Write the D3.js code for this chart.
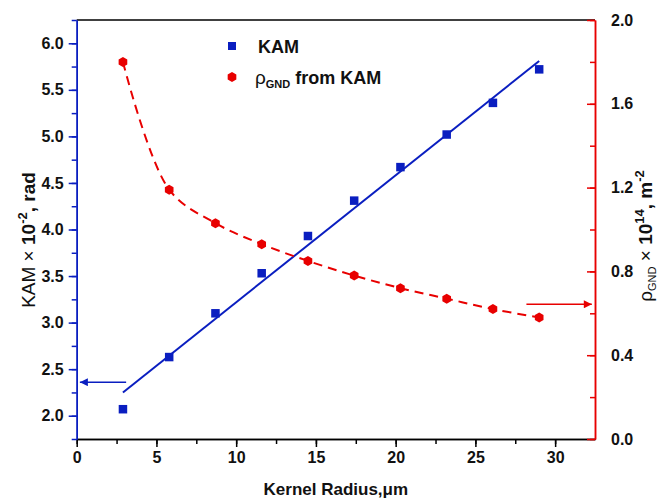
<!DOCTYPE html>
<html>
<head>
<meta charset="utf-8">
<script src="https://cdn.jsdelivr.net/npm/d3@7"></script>
<style>
  body { margin: 0; background: #fff; }
  svg { display: block; font-family: "Liberation Sans", Arial, sans-serif; }
</style>
</head>
<body>
<div id="chart"></div>
<script>
var width = 658,
  height = 498;

// DATA
const radius = [2.9, 5.8, 8.7, 11.6, 14.5, 17.4, 20.3, 23.2, 26.1, 29.0]; // kernel radius, um
const kam = [2.07, 2.63, 3.10, 3.53, 3.93, 4.31, 4.67, 5.02, 5.36, 5.72];  // KAM x 10^-2 rad
const rhoGND = [1.80, 1.19, 1.03, 0.93, 0.85, 0.78, 0.72, 0.67, 0.62, 0.58]; // x 10^14 m^-2
const kamFitX = [2.9, 29.0];   // linear fit ends
const kamFitY = [2.25, 5.81];
const kamArrowX = [3.1, 0.2];  // blue arrow pointing to left axis
const kamArrowY = 2.36;
const rhoArrowX = [28.2, 32.3]; // red arrow pointing to right axis
const rhoArrowY = 0.643;

const xTicks = [0, 5, 10, 15, 20, 25, 30];
const yLeftTicks = [2.0, 2.5, 3.0, 3.5, 4.0, 4.5, 5.0, 5.5, 6.0];
const yRightTicks = [0.0, 0.4, 0.8, 1.2, 1.6, 2.0];

const blue = '#0a1ec0';
const red = '#e80000';

var margin = { top: 20, right: 63, bottom: 59, left: 76.7 };

var svg = d3.select('#chart')
  .append('svg')
  .attr('width', width)
  .attr('height', height);

var x = d3.scaleLinear().domain([0, 32.5]).range([margin.left, width - margin.right]);
var yL = d3.scaleLinear().domain([1.75, 6.25]).range([height - margin.bottom, margin.top]);
var yR = d3.scaleLinear().domain([0, 2]).range([height - margin.bottom, margin.top]);

// top frame line
svg.append('line')
  .attr('x1', x(0)).attr('x2', x(32.5))
  .attr('y1', yL(6.25)).attr('y2', yL(6.25))
  .attr('stroke', '#000').attr('stroke-width', 1.5);

// axes
function styleAxis(g, color) {
  g.selectAll('path').attr('stroke', color).attr('stroke-width', 1.5);
  g.selectAll('line').attr('stroke', color).attr('stroke-width', 1.5);
  g.selectAll('text')
    .attr('fill', '#111')
    .style('font-size', '16px')
    .style('font-weight', 'bold');
}

// x axis: minor ticks then major
svg.append('g')
  .attr('transform', 'translate(0,' + yL(1.75) + ')')
  .call(d3.axisBottom(x).tickValues(d3.range(0, 32.5, 2.5)).tickSize(5).tickFormat('').tickSizeOuter(0))
  .call(g => styleAxis(g, '#000'));
svg.append('g')
  .attr('transform', 'translate(0,' + yL(1.75) + ')')
  .call(d3.axisBottom(x).tickValues(xTicks).tickSize(8).tickPadding(5).tickFormat(d3.format('d')).tickSizeOuter(0))
  .call(g => styleAxis(g, '#000'));

// left axis
svg.append('g')
  .attr('transform', 'translate(' + x(0) + ',0)')
  .call(d3.axisLeft(yL).tickValues(d3.range(1.75, 6.3, 0.25)).tickSize(5).tickFormat('').tickSizeOuter(0))
  .call(g => styleAxis(g, blue));
svg.append('g')
  .attr('transform', 'translate(' + x(0) + ',0)')
  .call(d3.axisLeft(yL).tickValues(yLeftTicks).tickSize(8).tickPadding(5).tickFormat(d3.format('.1f')).tickSizeOuter(0))
  .call(g => styleAxis(g, blue));

// right axis (ticks pointing inward)
svg.append('g')
  .attr('transform', 'translate(' + x(32.5) + ',0)')
  .call(d3.axisRight(yR).tickValues(d3.range(0, 2.01, 0.2)).tickSize(-5).tickFormat('').tickSizeOuter(0))
  .call(g => styleAxis(g, red));
svg.append('g')
  .attr('transform', 'translate(' + x(32.5) + ',0)')
  .call(d3.axisRight(yR).tickValues(yRightTicks).tickSize(-8).tickPadding(16).tickFormat(d3.format('.1f')).tickSizeOuter(0))
  .call(g => styleAxis(g, red));

// KAM linear fit
svg.append('line')
  .attr('x1', x(kamFitX[0])).attr('y1', yL(kamFitY[0]))
  .attr('x2', x(kamFitX[1])).attr('y2', yL(kamFitY[1]))
  .attr('stroke', blue).attr('stroke-width', 2);

// rho dashed fit curve
var rhoLine = d3.line()
  .x(d => x(d[0]))
  .y(d => yR(d[1]))
  .curve(d3.curveCatmullRom.alpha(0.5));
svg.append('path')
  .datum(d3.zip(radius, rhoGND))
  .attr('d', rhoLine)
  .attr('fill', 'none')
  .attr('stroke', red)
  .attr('stroke-width', 2)
  .attr('stroke-dasharray', '9,6');

// markers
var sq = 8.5;
svg.append('g')
  .selectAll('rect')
  .data(d3.zip(radius, kam))
  .join('rect')
  .attr('x', d => x(d[0]) - sq / 2)
  .attr('y', d => yL(d[1]) - sq / 2)
  .attr('width', sq)
  .attr('height', sq)
  .attr('fill', blue);

function hexPath(r) {
  let pts = d3.range(6).map(i => {
    let a = Math.PI / 6 + i * Math.PI / 3;
    return [r * Math.cos(a), r * Math.sin(a)];
  });
  return 'M' + pts.join('L') + 'Z';
}
svg.append('g')
  .selectAll('path')
  .data(d3.zip(radius, rhoGND))
  .join('path')
  .attr('d', hexPath(5))
  .attr('transform', d => 'translate(' + x(d[0]) + ',' + yR(d[1]) + ')')
  .attr('fill', red);

// arrows
var defs = svg.append('defs');
[['arrowBlue', blue], ['arrowRed', red]].forEach(function(a) {
  defs.append('marker')
    .attr('id', a[0])
    .attr('viewBox', '0 0 10 10')
    .attr('refX', 10).attr('refY', 5)
    .attr('markerWidth', 7).attr('markerHeight', 5)
    .attr('markerUnits', 'strokeWidth')
    .attr('orient', 'auto')
    .append('path')
    .attr('d', 'M0,0L10,5L0,10Z')
    .attr('fill', a[1]);
});
svg.append('line')
  .attr('x1', x(kamArrowX[0])).attr('x2', x(kamArrowX[1]))
  .attr('y1', yL(kamArrowY)).attr('y2', yL(kamArrowY))
  .attr('stroke', blue).attr('stroke-width', 1.6)
  .attr('marker-end', 'url(#arrowBlue)');
svg.append('line')
  .attr('x1', x(rhoArrowX[0])).attr('x2', x(rhoArrowX[1]))
  .attr('y1', yR(rhoArrowY)).attr('y2', yR(rhoArrowY))
  .attr('stroke', red).attr('stroke-width', 1.6)
  .attr('marker-end', 'url(#arrowRed)');

// legend
var leg = svg.append('g').attr('transform', 'translate(232,0)');
leg.append('rect')
  .attr('x', -4).attr('y', 42).attr('width', 8).attr('height', 8)
  .attr('fill', blue);
leg.append('path')
  .attr('d', hexPath(5))
  .attr('transform', 'translate(0,77)')
  .attr('fill', red);
leg.append('text')
  .attr('x', 26).attr('y', 53)
  .style('font-size', '18px').style('font-weight', 'bold')
  .attr('fill', '#111')
  .text('KAM');
var t2 = leg.append('text')
  .attr('x', 23).attr('y', 84)
  .style('font-size', '19px')
  .attr('fill', '#111');
t2.append('tspan').text('ρ');
t2.append('tspan').attr('dy', 4).style('font-size', '11px').style('font-weight', 'bold').text('GND');
t2.append('tspan').attr('dy', -4).style('font-size', '18px').style('font-weight', 'bold').text(' from KAM');

// axis titles
svg.append('text')
  .attr('x', x(16.25) + 0).attr('y', 495)
  .attr('text-anchor', 'middle')
  .style('font-size', '17px').style('font-weight', 'bold')
  .attr('fill', '#111')
  .text('Kernel Radius,μm');

var lt = svg.append('text')
  .attr('transform', 'translate(35,240) rotate(-90)')
  .attr('text-anchor', 'middle')
  .style('font-size', '19px')
  .attr('fill', '#111');
lt.append('tspan').text('KAM × ');
lt.append('tspan').style('font-weight', 'bold').text('10');
lt.append('tspan').attr('dy', -8).style('font-size', '13px').style('font-weight', 'bold').text('-2');
lt.append('tspan').attr('dy', 8).style('font-weight', 'bold').text(', rad');

var rt = svg.append('text')
  .attr('transform', 'translate(652,236) rotate(-90)')
  .attr('text-anchor', 'middle')
  .style('font-size', '19px')
  .attr('fill', '#111');
rt.append('tspan').text('ρ');
rt.append('tspan').attr('dy', 4).style('font-size', '11px').text('GND');
rt.append('tspan').attr('dy', -4).text(' × ');
rt.append('tspan').style('font-weight', 'bold').text('10');
rt.append('tspan').attr('dy', -8).style('font-size', '13px').style('font-weight', 'bold').text('14');
rt.append('tspan').attr('dy', 8).style('font-weight', 'bold').text(', m');
rt.append('tspan').attr('dy', -8).style('font-size', '13px').style('font-weight', 'bold').text('-2');
</script>
</body>
</html>
